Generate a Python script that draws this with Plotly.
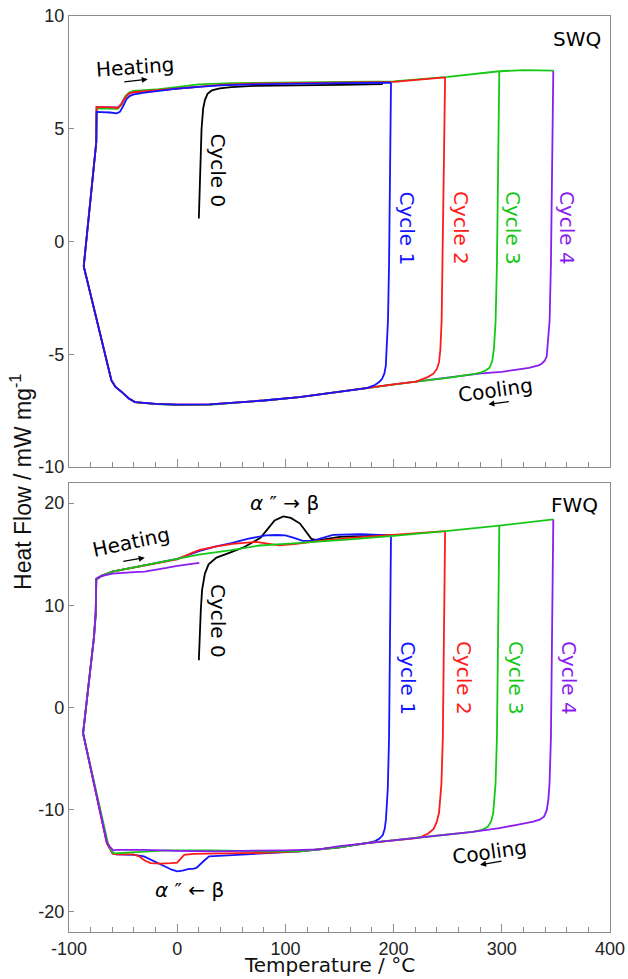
import plotly.graph_objects as go

# ---------------- SWQ (top panel) ----------------
swq_c0_T = [20, 21, 22.5, 24, 25.6, 28, 32, 39.4, 50, 70, 100, 150, 190]
swq_c0_HF = [1.02, 3.0, 5.0, 5.9, 6.27, 6.55, 6.7, 6.79, 6.85, 6.9, 6.93, 6.95, 6.98]

swq_c1_heat_T = [-86.4, -84, -80, -76.5, -74.8, -74.5, -70, -62, -56, -53, -50, -47, -44, -40, -30, -20, -10, 0, 20, 40, 70, 100, 150, 197.6]
swq_c1_heat_HF = [-1.1, 0.0, 2.0, 3.6, 4.4, 5.75, 5.75, 5.72, 5.68, 5.75, 6.0, 6.3, 6.45, 6.52, 6.6, 6.66, 6.72, 6.78, 6.86, 6.92, 6.97, 7.0, 7.02, 7.04]
swq_c1_cool_T = [197.6, 196.8, 195.8, 194.8, 193.6, 192.8, 191.5, 189.5, 187, 182, 175, 150, 113, 80, 50, 30, 0, -20, -39, -45, -50, -54, -57, -60.8, -86.4]
swq_c1_cool_HF = [7.04, 3.0, -1.0, -3.5, -5.0, -5.5, -5.85, -6.08, -6.22, -6.38, -6.5, -6.66, -6.9, -7.05, -7.15, -7.22, -7.23, -7.2, -7.12, -6.95, -6.72, -6.55, -6.45, -6.16, -1.1]

swq_c2_heat_T = [-86.4, -84, -80, -76.5, -74.8, -74.5, -70, -60, -55, -52, -49, -45, -40, -30, -20, -10, 0, 20, 40, 70, 100, 150, 200, 247.6]
swq_c2_heat_HF = [-1.1, 0.0, 2.0, 3.6, 4.4, 5.97, 5.97, 5.95, 5.92, 6.05, 6.3, 6.55, 6.62, 6.66, 6.7, 6.76, 6.8, 6.88, 6.95, 7.0, 7.02, 7.04, 7.08, 7.28]
swq_c2_cool_T = [247.6, 246.6, 245.5, 244.4, 243.2, 242, 240, 237, 232, 226, 221, 200, 175, 150, 113, 80, 50, 30, 0, -20, -39, -45, -50, -54, -57, -60.8, -86.4]
swq_c2_cool_HF = [7.28, 3.0, -1.0, -3.5, -4.8, -5.35, -5.65, -5.85, -6.0, -6.12, -6.21, -6.33, -6.5, -6.66, -6.9, -7.05, -7.15, -7.22, -7.23, -7.2, -7.12, -6.95, -6.72, -6.55, -6.45, -6.16, -1.1]

swq_c3_heat_T = [-86.4, -84, -80, -76.5, -74.8, -74.5, -70, -60, -55, -51, -48, -44, -40, -20, 0, 20, 50, 100, 150, 200, 250, 297.7]
swq_c3_heat_HF = [-1.1, 0.0, 2.0, 3.6, 4.4, 5.9, 5.9, 5.89, 5.88, 6.1, 6.45, 6.62, 6.68, 6.74, 6.84, 6.97, 7.02, 7.04, 7.06, 7.1, 7.3, 7.55]
swq_c3_cool_T = [297.7, 296.7, 295.5, 294.3, 292.8, 291.2, 288.5, 285, 281, 275, 267, 250, 221, 200, 175, 150, 113, 80, 50, 30, 0, -20, -39, -45, -50, -54, -57, -60.8, -86.4]
swq_c3_cool_HF = [7.55, 3.0, -1.0, -3.5, -4.7, -5.3, -5.6, -5.72, -5.8, -5.87, -5.93, -6.05, -6.21, -6.33, -6.5, -6.66, -6.9, -7.05, -7.17, -7.24, -7.25, -7.21, -7.12, -6.95, -6.72, -6.55, -6.45, -6.16, -1.1]
swq_c4_ext_T = [297.7, 320, 347.6]
swq_c4_ext_HF = [7.55, 7.6, 7.58]

swq_c4_heat_T = [-86.4, -84, -80, -76.5, -74.8, -74.5, -60, -55, -52, -49, -45, -40, -20, 0, 20]
swq_c4_heat_HF = [-1.1, 0.0, 2.0, 3.6, 4.4, 5.97, 5.97, 5.95, 6.08, 6.35, 6.55, 6.62, 6.7, 6.78, 6.86]
swq_c4_cool_T = [347.6, 346.6, 345.4, 344.2, 342.8, 341.5, 339.5, 336.5, 333.9, 325, 314, 300, 281, 267, 250, 221, 200, 175, 150, 113, 80, 50, 30, 0, -20, -39, -45, -50, -54, -57, -60.8, -86.4]
swq_c4_cool_HF = [7.58, 3.0, -1.0, -3.5, -4.6, -5.1, -5.3, -5.43, -5.49, -5.6, -5.68, -5.78, -5.85, -5.93, -6.05, -6.21, -6.33, -6.5, -6.66, -6.9, -7.05, -7.15, -7.22, -7.23, -7.2, -7.12, -6.95, -6.72, -6.55, -6.45, -6.16, -1.1]

# ---------------- FWQ (bottom panel) ----------------
fwq_c0_T = [20, 20.6, 21.8, 23, 25.6, 29, 36.3, 50, 62, 70.3, 77, 82.6, 90, 98, 105, 113.5, 120, 124, 130, 150, 197.6]
fwq_c0_HF = [4.62, 6.5, 9.5, 11.5, 13.1, 14.0, 14.66, 15.2, 15.7, 16.2, 16.6, 17.33, 18.3, 18.7, 18.55, 18.0, 17.0, 16.5, 16.35, 16.7, 16.85]

fwq_c1_heat_T = [-87, -84, -80, -77, -75.3, -74.8, -70, -60, -50, -40, -30, -20, -10, 0, 10, 20, 35, 51, 65, 82, 92, 100, 108, 116, 125, 135, 144, 170, 197.6]
fwq_c1_heat_HF = [-2.54, 0.5, 4.0, 6.8, 9.2, 12.6, 12.9, 13.3, 13.5, 13.7, 13.95, 14.15, 14.35, 14.55, 14.9, 15.3, 15.75, 16.1, 16.5, 16.84, 16.88, 16.84, 16.6, 16.3, 16.3, 16.6, 16.9, 16.95, 16.85]
fwq_c1_cool_T = [197.6, 196.8, 195.8, 194.6, 193.5, 192.9, 191.8, 190, 187, 183, 175, 150, 113, 80, 46.5, 35, 29.5, 25, 21.8, 18, 15.6, 10, 5, 0, -5, -15.3, -25, -30.7, -40, -50, -56, -59.7, -62, -65, -87]
fwq_c1_cool_HF = [16.85, 5, -3, -8, -10.2, -11.0, -11.9, -12.5, -12.85, -13.1, -13.3, -13.7, -14.1, -14.3, -14.5, -14.55, -14.6, -15.0, -15.3, -15.7, -15.8, -15.85, -16.0, -16.07, -15.9, -15.4, -14.9, -14.6, -14.45, -14.4, -14.4, -14.3, -13.9, -13.3, -2.54]

fwq_c2_heat_T = [-87, -84, -80, -77, -75.3, -74.8, -70, -60, -50, -40, -30, -20, -10, 0, 10, 20, 35, 51, 72.8, 85, 94.4, 110, 131.5, 160, 200, 247.6]
fwq_c2_heat_HF = [-2.54, 0.5, 4.0, 6.8, 9.2, 12.5, 12.85, 13.3, 13.5, 13.7, 13.95, 14.15, 14.35, 14.5, 14.95, 15.4, 15.75, 16.0, 16.2, 16.0, 15.87, 16.0, 16.3, 16.6, 16.9, 17.25]
fwq_c2_cool_T = [247.6, 246.6, 245.5, 244.2, 243, 242, 240, 237, 232, 226, 221, 200, 175, 150, 113, 80, 50, 31, 15, 6.4, 3, 0, -5.9, -15, -24.5, -30, -35, -40, -50, -56, -59.7, -62, -65, -87]
fwq_c2_cool_HF = [17.25, 5, -3, -7.5, -9.5, -10.3, -11.2, -11.9, -12.35, -12.65, -12.8, -13.0, -13.3, -13.7, -14.1, -14.25, -14.3, -14.3, -14.35, -14.45, -14.9, -15.2, -15.25, -15.3, -15.25, -15.0, -14.6, -14.4, -14.4, -14.4, -14.3, -13.9, -13.3, -2.54]

fwq_c3_heat_T = [-87, -84, -80, -77, -75.3, -74.8, -70, -60, -50, -40, -30, -20, -10, 0, 10, 20, 50, 76, 100, 131.5, 160, 200, 248, 297.7]
fwq_c3_heat_HF = [-2.54, 0.5, 4.0, 6.8, 9.2, 12.5, 12.85, 13.3, 13.5, 13.7, 13.9, 14.1, 14.3, 14.5, 14.75, 14.95, 15.4, 15.85, 16.0, 16.2, 16.45, 16.8, 17.25, 17.8]
fwq_c3_cool_T = [297.7, 296.7, 295.5, 294.2, 293.1, 292, 290, 287, 282, 273, 250, 221, 200, 175, 150, 113, 80, 31, -10, -40, -55, -58.5, -61, -64, -87]
fwq_c3_cool_HF = [17.8, 5, -3, -7.5, -9.4, -10.4, -11.2, -11.7, -12.0, -12.2, -12.45, -12.8, -13.0, -13.3, -13.7, -14.1, -14.1, -14.0, -14.0, -14.2, -14.3, -14.3, -14.0, -13.3, -2.54]
fwq_c4_ext_T = [297.7, 347.6]
fwq_c4_ext_HF = [17.8, 18.4]

fwq_c4_heat_T = [-87, -84, -80, -77, -75.3, -74.8, -70, -60, -50, -40, -30, -20, -10, 0, 10, 20.4]
fwq_c4_heat_HF = [-2.54, 0.5, 4.0, 6.8, 9.2, 12.6, 12.85, 13.1, 13.2, 13.25, 13.3, 13.45, 13.65, 13.85, 14.0, 14.15]
fwq_c4_cool_T = [347.6, 346.6, 345.4, 344.1, 343, 341.5, 339, 335, 329, 314, 297.7, 273, 250, 221, 200, 175, 150, 131, 100, 60, 35.6, 0, -30, -55.7, -59, -62, -65, -87]
fwq_c4_cool_HF = [18.4, 5, -3, -7.5, -9.06, -10.1, -10.7, -11.0, -11.2, -11.5, -11.83, -12.2, -12.45, -12.8, -13.0, -13.3, -13.6, -13.9, -14.0, -14.05, -14.1, -14.05, -13.95, -13.95, -14.0, -13.7, -13.2, -2.54]

x_ticks = [-100, 0, 100, 200, 300, 400]
x_tick_labels = ["-100", "0", "100", "200", "300", "400"]
swq_y_ticks = [-10, -5, 0, 5, 10]
swq_y_tick_labels = ["-10", "-5", "0", "5", "10"]
fwq_y_ticks = [-20, -10, 0, 10, 20]
fwq_y_tick_labels = ["-20", "-10", "0", "10", "20"]
cycle_labels = ["Cycle 0", "Cycle 1", "Cycle 2", "Cycle 3", "Cycle 4"]

# ---------------- styling ----------------
C_BLACK = "#000000"
C_BLUE = "#1414ff"
C_RED = "#ff1a1a"
C_GREEN = "#16c816"
C_PURPLE = "#8a1cf0"
LW = 1.8

fig = go.Figure()


def add(x, y, color, xa, ya):
    fig.add_trace(go.Scatter(x=x, y=y, mode="lines", line=dict(color=color, width=LW),
                             xaxis=xa, yaxis=ya, showlegend=False, hoverinfo="skip"))


# top panel (blue on top)
add(swq_c0_T, swq_c0_HF, C_BLACK, "x", "y")
add(swq_c4_heat_T, swq_c4_heat_HF, C_PURPLE, "x", "y")
add(swq_c4_cool_T, swq_c4_cool_HF, C_PURPLE, "x", "y")
add(swq_c3_heat_T, swq_c3_heat_HF, C_GREEN, "x", "y")
add(swq_c3_cool_T, swq_c3_cool_HF, C_GREEN, "x", "y")
add(swq_c4_ext_T, swq_c4_ext_HF, C_GREEN, "x", "y")
add(swq_c2_heat_T, swq_c2_heat_HF, C_RED, "x", "y")
add(swq_c2_cool_T, swq_c2_cool_HF, C_RED, "x", "y")
add(swq_c1_heat_T, swq_c1_heat_HF, C_BLUE, "x", "y")
add(swq_c1_cool_T, swq_c1_cool_HF, C_BLUE, "x", "y")

# bottom panel (purple on top)
add(fwq_c0_T, fwq_c0_HF, C_BLACK, "x2", "y2")
add(fwq_c1_heat_T, fwq_c1_heat_HF, C_BLUE, "x2", "y2")
add(fwq_c1_cool_T, fwq_c1_cool_HF, C_BLUE, "x2", "y2")
add(fwq_c2_heat_T, fwq_c2_heat_HF, C_RED, "x2", "y2")
add(fwq_c2_cool_T, fwq_c2_cool_HF, C_RED, "x2", "y2")
add(fwq_c3_heat_T, fwq_c3_heat_HF, C_GREEN, "x2", "y2")
add(fwq_c3_cool_T, fwq_c3_cool_HF, C_GREEN, "x2", "y2")
add(fwq_c4_ext_T, fwq_c4_ext_HF, C_GREEN, "x2", "y2")
add(fwq_c4_heat_T, fwq_c4_heat_HF, C_PURPLE, "x2", "y2")
add(fwq_c4_cool_T, fwq_c4_cool_HF, C_PURPLE, "x2", "y2")

AX = "#8c8c8c"
TICKFONT = dict(family="Liberation Sans, Arial, sans-serif", size=18, color="#222222")
xcommon = dict(range=[-100, 400], tickvals=x_ticks, ticktext=x_tick_labels, ticks="inside",
               ticklen=8, tickwidth=1.2, automargin=False,
               tickcolor=AX, showline=True, linecolor=AX, linewidth=1.4, mirror=True,
               showgrid=False, zeroline=False,
               minor=dict(dtick=20, ticks="inside", ticklen=5, tickwidth=1.1, tickcolor=AX),
               tickfont=TICKFONT)
ycommon = dict(ticks="inside", ticklen=5, tickwidth=1.2, tickcolor=AX, showline=True,
               linecolor=AX, linewidth=1.4, mirror=True, showgrid=False, zeroline=False,
               automargin=False, tickfont=TICKFONT)

fig.update_layout(
    width=628, height=979,
    margin=dict(l=69, r=18, t=16, b=47, autoexpand=False),
    plot_bgcolor="white", paper_bgcolor="white",
    xaxis=dict(domain=[0, 1], anchor="y", showticklabels=False, matches="x2", **xcommon),
    yaxis=dict(domain=[0.5076, 1], anchor="x", range=[-10, 10], tickvals=swq_y_ticks,
               ticktext=swq_y_tick_labels, **ycommon),
    xaxis2=dict(domain=[0, 1], anchor="y2", **xcommon),
    yaxis2=dict(domain=[0, 0.4905], anchor="x2", range=[-22, 22], tickvals=fwq_y_ticks,
                ticktext=fwq_y_tick_labels, **ycommon),
)

AFONT = "DejaVu Sans, Verdana, sans-serif"


def label(text, x, y, xa, ya, color="black", angle=0, size=20, xanchor="center"):
    fig.add_annotation(text=text, x=x, y=y, xref=xa, yref=ya, showarrow=False,
                       textangle=angle, xanchor=xanchor, yanchor="middle",
                       font=dict(family=AFONT, size=size, color=color))


def arrow(x, y, ax, ay, xa, ya):
    fig.add_annotation(text="", x=x, y=y, xref=xa, yref=ya, ax=ax, ay=ay,
                       showarrow=True, arrowhead=2, arrowsize=1, arrowwidth=1.2,
                       arrowcolor="black", font=dict(size=10))


# top annotations
label("Heating", -39.2, 7.74, "x", "y", angle=-4)
arrow(-27.2, 7.2, -25, 3, "x", "y")
label(cycle_labels[0], 37.6, 3.16, "x", "y", angle=90)
label(cycle_labels[1], 212.1, 0.59, "x", "y", color=C_BLUE, angle=90)
label(cycle_labels[2], 262.4, 0.59, "x", "y", color=C_RED, angle=90)
label(cycle_labels[3], 310.5, 0.59, "x", "y", color=C_GREEN, angle=90)
label(cycle_labels[4], 360.5, 0.59, "x", "y", color=C_PURPLE, angle=90)
label("SWQ", 393.8, 8.98, "x", "y", xanchor="right")
label("Cooling", 293.8, -6.6, "x", "y", angle=-8)
arrow(287.6, -7.22, 22, -3, "x", "y")

# bottom annotations
label("<i>α</i> ″ → β", 99.5, 19.97, "x2", "y2")
label("Heating", -42.7, 16.17, "x2", "y2", angle=-12)
arrow(-30.0, 14.66, -23, 4, "x2", "y2")
label(cycle_labels[0], 37.6, 8.47, "x2", "y2", angle=90)
label(cycle_labels[1], 213.3, 2.86, "x2", "y2", color=C_BLUE, angle=90)
label(cycle_labels[2], 265.2, 2.86, "x2", "y2", color=C_RED, angle=90)
label(cycle_labels[3], 313.2, 2.86, "x2", "y2", color=C_GREEN, angle=90)
label(cycle_labels[4], 362.3, 2.86, "x2", "y2", color=C_PURPLE, angle=90)
label("FWQ", 390.9, 19.77, "x2", "y2", xanchor="right")
label("Cooling", 288.3, -14.12, "x2", "y2", angle=-8)
arrow(279.9, -15.42, 23, -4, "x2", "y2")
label("<i>α</i> ″ ← β", 11.8, -17.86, "x2", "y2")

# axis titles
fig.add_annotation(text="Heat Flow / mW mg<sup>-1</sup>", xref="paper", yref="paper",
                   x=-0.0887, y=0.4913, showarrow=False, textangle=-90,
                   xanchor="center", yanchor="middle",
                   font=dict(family="Liberation Sans, Arial, sans-serif", size=23, color="#111111"))
fig.add_annotation(text="Temperature / °C", xref="paper", yref="paper",
                   x=0.4824, y=-0.0355, showarrow=False, xanchor="center", yanchor="middle",
                   font=dict(family=AFONT, size=20, color="#111111"))

fig.write_html("out.html")
